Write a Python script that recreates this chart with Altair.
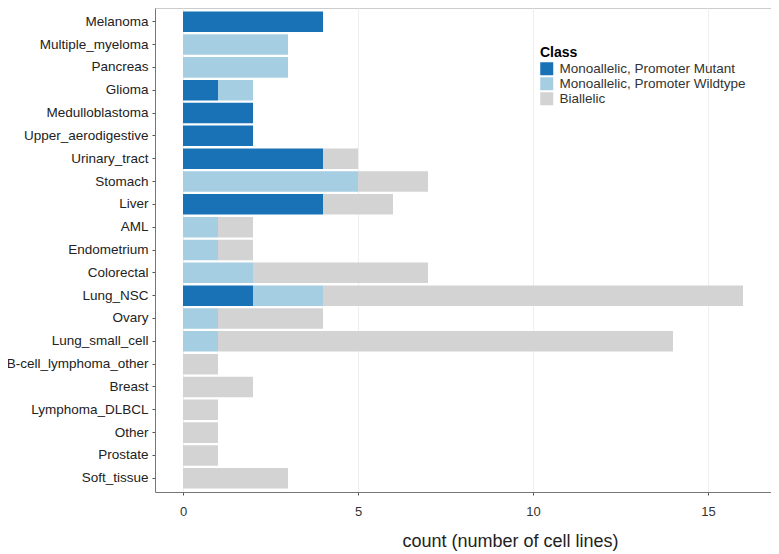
import altair as alt
import pandas as pd

categories = ["Melanoma", "Multiple_myeloma", "Pancreas", "Glioma", "Medulloblastoma",
              "Upper_aerodigestive", "Urinary_tract", "Stomach", "Liver", "AML",
              "Endometrium", "Colorectal", "Lung_NSC", "Ovary", "Lung_small_cell",
              "B-cell_lymphoma_other", "Breast", "Lymphoma_DLBCL", "Other", "Prostate",
              "Soft_tissue"]
mutant    = [4, 0, 0, 1, 2, 2, 4, 0, 4, 0, 0, 0, 2, 0, 0, 0, 0, 0, 0, 0, 0]
wildtype  = [0, 3, 3, 1, 0, 0, 0, 5, 0, 1, 1, 2, 2, 1, 1, 0, 0, 0, 0, 0, 0]
biallelic = [0, 0, 0, 0, 0, 0, 1, 2, 2, 1, 1, 5, 12, 3, 13, 1, 2, 1, 1, 1, 3]
classes = ["Monoallelic, Promoter Mutant", "Monoallelic, Promoter Wildtype", "Biallelic"]
colors = ["#1a72b6", "#a6cee3", "#d3d3d3"]
x_ticks = [0, 5, 10, 15]

rows = []
for i, c in enumerate(categories):
    for k, vals in enumerate([mutant, wildtype, biallelic]):
        if vals[i] > 0:
            rows.append({"Tissue": c, "Class": classes[k], "count": vals[i], "ord": k})
df = pd.DataFrame(rows)

FONT = "Liberation Sans"

chart = alt.Chart(df).mark_bar().encode(
    y=alt.Y("Tissue:N", sort=categories,
            scale=alt.Scale(paddingInner=0.1, paddingOuter=0.15),
            axis=alt.Axis(title=None, bandPosition=0.5, labelFontSize=13.5,
                          labelColor="#222222", labelPadding=4, tickSize=3,
                          tickColor="#555555", domainColor="#777777",
                          gridColor="#eeeeee", labelFont=FONT, labelLimit=200)),
    x=alt.X("count:Q", stack="zero",
            scale=alt.Scale(domain=[-0.8, 16.8], nice=False, zero=False),
            axis=alt.Axis(title="count (number of cell lines)", values=x_ticks,
                          labelFontSize=13, labelColor="#333333", labelPadding=10,
                          tickSize=3, tickColor="#555555", domainColor="#777777",
                          gridColor="#eeeeee", titleFontSize=18,
                          titleFontWeight="normal", titleColor="#222222",
                          titlePadding=14, labelFont=FONT, titleFont=FONT,
                          titleX=355, titleAlign="center")),
    color=alt.Color("Class:N", sort=classes,
                    scale=alt.Scale(domain=classes, range=colors),
                    legend=alt.Legend(orient="none", legendX=385, legendY=38,
                                      title="Class", titleFontSize=14,
                                      titleFontWeight="bold", titleColor="#000000",
                                      titleFont=FONT, labelFont=FONT,
                                      labelFontSize=13.5, labelColor="#333333",
                                      labelLimit=300,
                                      symbolType="square", symbolSize=169,
                                      symbolStrokeWidth=0, rowPadding=0,
                                      labelOffset=6, titlePadding=2)),
    order=alt.Order("ord:Q"),
).properties(
    width=616, height=484,
    autosize=alt.AutoSizeParams(type="none"),
    padding={"left": 147, "top": 0, "right": 0, "bottom": 60},
).configure_view(stroke="#cccccc", strokeWidth=1)

chart.save("out.html", embed_options={"renderer": "svg", "actions": False})
